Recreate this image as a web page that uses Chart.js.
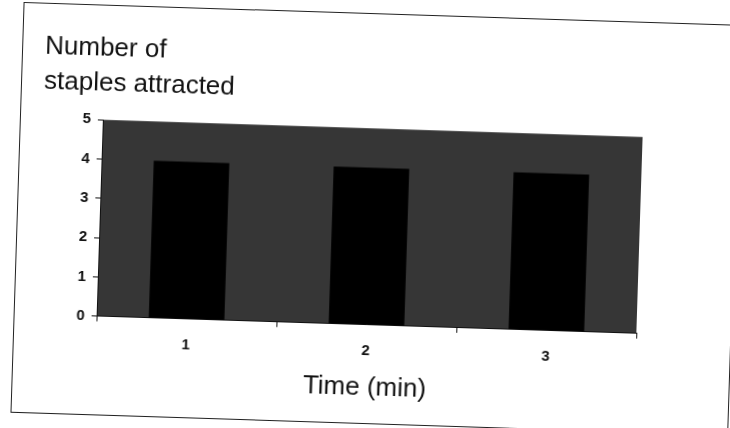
<!DOCTYPE html>
<html>
<head>
<meta charset="utf-8">
<script src="https://cdn.jsdelivr.net/npm/chart.js@4/dist/chart.umd.min.js"></script>
<style>
  html, body { margin: 0; padding: 0; background: #fff; overflow: hidden; }
  #outer { position: relative; width: 730px; height: 428px; overflow: hidden; background: #fff; }
  #wrap { position: absolute; left: 0; top: 0; width: 730px; height: 428px; transform: rotate(1.83deg); transform-origin: 365px 214px; }
  #frame { position: absolute; left: 17px; top: 13px; width: 718px; height: 411px; border: 1.5px solid #222; box-sizing: border-box; }
  canvas { position: absolute; left: 0; top: 0; }
</style>
</head>
<body>
<div id="outer">
<div id="wrap">
  <div id="frame"></div>
  <canvas id="c" width="730" height="428"></canvas>
</div>
</div>
<script>
const categories = ['1', '2', '3'];
const staples = [4, 4, 4];
const yTicks = [0, 1, 2, 3, 4, 5];
const yTitle = ['Number of', 'staples attracted'];
const xTitle = 'Time (min)';

const plotBg = {
  id: 'plotBg',
  beforeDraw(chart) {
    const a = chart.chartArea, ctx = chart.ctx;
    ctx.save();
    ctx.fillStyle = '#363636';
    ctx.fillRect(a.left, a.top, a.right - a.left, a.bottom - a.top);
    ctx.restore();
  }
};

const FONT = 'Liberation Sans, Arial, sans-serif';

new Chart(document.getElementById('c'), {
  type: 'bar',
  data: {
    labels: categories,
    datasets: [{
      data: staples,
      backgroundColor: '#000',
      borderWidth: 0,
      barPercentage: 0.42,
      categoryPercentage: 1.0
    }]
  },
  options: {
    responsive: false,
    animation: false,
    devicePixelRatio: 1,
    layout: { padding: { left: 40, right: 90, top: 0, bottom: 25 } },
    plugins: {
      legend: { display: false },
      tooltip: { enabled: false },
      title: {
        display: true,
        text: yTitle,
        align: 'start',
        color: '#111',
        font: { family: FONT, size: 26, weight: 'normal', lineHeight: 1.35 },
        padding: { top: 39, bottom: 19 }
      }
    },
    scales: {
      y: {
        min: 0, max: 5,
        afterFit(s) { s.width = 60; },
        afterBuildTicks(s) { s.ticks = yTicks.map(v => ({ value: v })); },
        ticks: {
          color: '#111',
          padding: 7,
          font: { family: FONT, size: 15, weight: 'bold' }
        },
        grid: { display: true, drawOnChartArea: false, drawTicks: true, tickLength: 5, color: '#111' },
        border: { display: true, color: '#111', width: 1 }
      },
      x: {
        ticks: {
          color: '#111',
          padding: 12,
          font: { family: FONT, size: 15, weight: 'bold' }
        },
        grid: { display: true, drawOnChartArea: false, drawTicks: true, tickLength: 5, color: '#111' },
        border: { display: true, color: '#111', width: 1 },
        title: {
          display: true,
          text: xTitle,
          color: '#111',
          font: { family: FONT, size: 26, weight: 'normal' },
          padding: { top: 0, bottom: 0 }
        }
      }
    }
  },
  plugins: [plotBg]
});
</script>
</body>
</html>
